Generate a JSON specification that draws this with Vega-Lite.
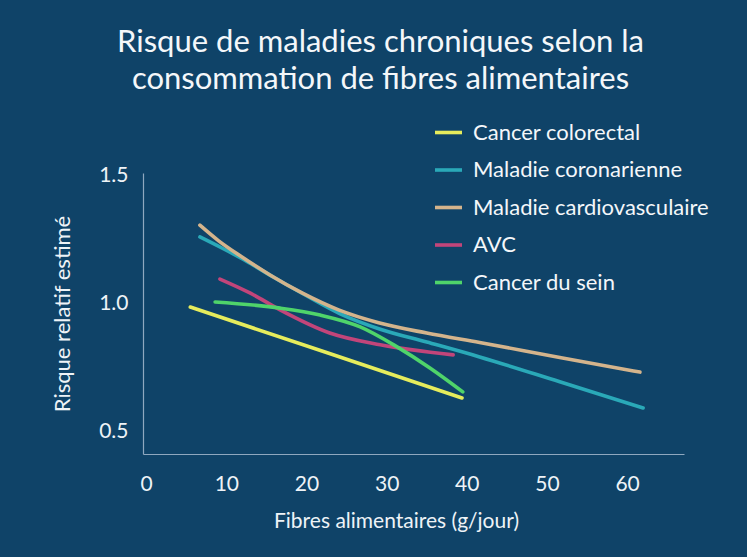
{
  "$schema": "https://vega.github.io/schema/vega-lite/v6.json",
  "autosize": {"type": "none"},
  "width": 541,
  "height": 281,
  "padding": {"left": 143, "top": 173, "right": 63, "bottom": 103},
  "background": "#0f4368",
  "title": {
    "text": ["Risque de maladies chroniques selon la", "consommation de fibres alimentaires"],
    "font": "Lato",
    "fontSize": 31,
    "fontWeight": "normal",
    "color": "#f4f7fa",
    "anchor": "middle",
    "frame": "group",
    "dx": -33,
    "offset": 21,
    "lineHeight": 37
  },
  "config": {
    "view": {"stroke": null},
    "font": "Lato",
    "axis": {"grid": false, "ticks": false, "domainColor": "#8fa8bf", "domainWidth": 1.2, "labelColor": "#eef3f7", "titleColor": "#eef3f7", "labelFont": "Lato", "titleFont": "Lato", "titleFontWeight": "normal"}
  },
  "data": {
    "values": [
      {"fibres": 5.5, "risque": 0.986, "maladie": "Cancer colorectal"},
      {"fibres": 22.4, "risque": 0.81, "maladie": "Cancer colorectal"},
      {"fibres": 39.4, "risque": 0.632, "maladie": "Cancer colorectal"},

      {"fibres": 6.7, "risque": 1.259, "maladie": "Maladie coronarienne"},
      {"fibres": 9.5, "risque": 1.215, "maladie": "Maladie coronarienne"},
      {"fibres": 12.5, "risque": 1.165, "maladie": "Maladie coronarienne"},
      {"fibres": 16.0, "risque": 1.1, "maladie": "Maladie coronarienne"},
      {"fibres": 20.0, "risque": 1.03, "maladie": "Maladie coronarienne"},
      {"fibres": 24.2, "risque": 0.96, "maladie": "Maladie coronarienne"},
      {"fibres": 29.2, "risque": 0.9, "maladie": "Maladie coronarienne"},
      {"fibres": 35.0, "risque": 0.85, "maladie": "Maladie coronarienne"},
      {"fibres": 41.6, "risque": 0.792, "maladie": "Maladie coronarienne"},
      {"fibres": 51.6, "risque": 0.695, "maladie": "Maladie coronarienne"},
      {"fibres": 62.0, "risque": 0.593, "maladie": "Maladie coronarienne"},

      {"fibres": 6.7, "risque": 1.305, "maladie": "Maladie cardiovasculaire"},
      {"fibres": 9.0, "risque": 1.245, "maladie": "Maladie cardiovasculaire"},
      {"fibres": 12.0, "risque": 1.18, "maladie": "Maladie cardiovasculaire"},
      {"fibres": 15.5, "risque": 1.11, "maladie": "Maladie cardiovasculaire"},
      {"fibres": 19.5, "risque": 1.04, "maladie": "Maladie cardiovasculaire"},
      {"fibres": 24.0, "risque": 0.975, "maladie": "Maladie cardiovasculaire"},
      {"fibres": 29.0, "risque": 0.925, "maladie": "Maladie cardiovasculaire"},
      {"fibres": 35.0, "risque": 0.885, "maladie": "Maladie cardiovasculaire"},
      {"fibres": 41.6, "risque": 0.848, "maladie": "Maladie cardiovasculaire"},
      {"fibres": 51.6, "risque": 0.79, "maladie": "Maladie cardiovasculaire"},
      {"fibres": 61.6, "risque": 0.733, "maladie": "Maladie cardiovasculaire"},

      {"fibres": 9.2, "risque": 1.095, "maladie": "AVC"},
      {"fibres": 13.0, "risque": 1.04, "maladie": "AVC"},
      {"fibres": 16.7, "risque": 0.975, "maladie": "AVC"},
      {"fibres": 22.9, "risque": 0.885, "maladie": "AVC"},
      {"fibres": 29.2, "risque": 0.839, "maladie": "AVC"},
      {"fibres": 38.3, "risque": 0.8, "maladie": "AVC"},

      {"fibres": 8.6, "risque": 1.006, "maladie": "Cancer du sein"},
      {"fibres": 16.7, "risque": 0.982, "maladie": "Cancer du sein"},
      {"fibres": 21.7, "risque": 0.955, "maladie": "Cancer du sein"},
      {"fibres": 26.7, "risque": 0.909, "maladie": "Cancer du sein"},
      {"fibres": 31.3, "risque": 0.831, "maladie": "Cancer du sein"},
      {"fibres": 35.4, "risque": 0.749, "maladie": "Cancer du sein"},
      {"fibres": 39.5, "risque": 0.656, "maladie": "Cancer du sein"}
    ]
  },
  "mark": {"type": "line", "interpolate": "monotone", "strokeWidth": 3.6, "strokeCap": "round"},
  "encoding": {
    "x": {
      "field": "fibres", "type": "quantitative",
      "scale": {"domain": [-0.4, 67.1], "nice": false, "zero": false},
      "axis": {"values": [0, 10, 20, 30, 40, 50, 60], "labelFontSize": 21, "labelPadding": 19, "title": "Fibres alimentaires (g/jour)", "titleFontSize": 21, "titlePadding": 16, "titleX": 253}
    },
    "y": {
      "field": "risque", "type": "quantitative",
      "scale": {"domain": [0.414, 1.508], "nice": false, "zero": false},
      "axis": {"values": [0.5, 1.0, 1.5], "format": ".1f", "labelFontSize": 21, "labelPadding": 15, "title": "Risque relatif estimé", "titleFontSize": 22, "titlePadding": 24}
    },
    "color": {
      "field": "maladie", "type": "nominal",
      "scale": {
        "domain": ["Cancer colorectal", "Maladie coronarienne", "Maladie cardiovasculaire", "AVC", "Cancer du sein"],
        "range": ["#e6ec5c", "#2aa9b8", "#d4b48c", "#c2457a", "#4fd46a"]
      },
      "legend": {
        "orient": "none", "legendX": 290, "legendY": -56, "title": null,
        "symbolType": "stroke", "symbolSize": 729, "symbolStrokeWidth": 3.6,
        "labelFontSize": 22, "labelColor": "#f4f7fa", "labelFont": "Lato", "labelOffset": 9,
        "rowPadding": 10.5, "padding": 0, "labelLimit": 400
      }
    }
  }
}
